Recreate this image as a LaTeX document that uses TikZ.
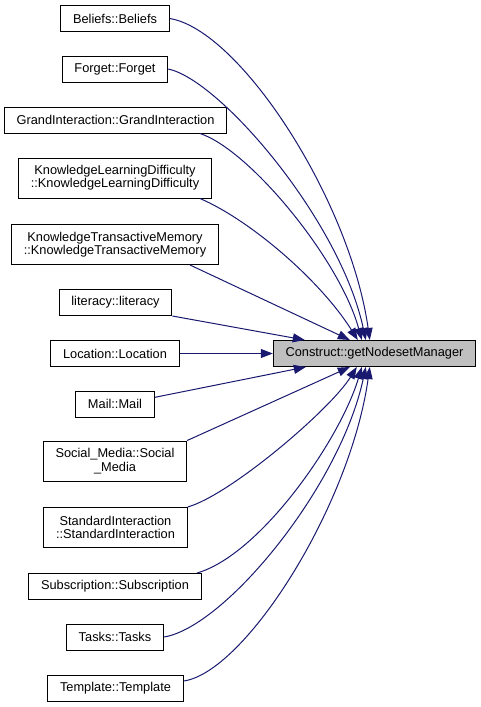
\documentclass[tikz,border=0pt]{standalone}
\usepackage{fontspec}
\setmainfont{Liberation Sans}
\usetikzlibrary{arrows.meta}
\definecolor{edgeblue}{HTML}{191970}
\definecolor{boxgray}{HTML}{BFBFBF}

\begin{document}
\begin{tikzpicture}[x=0.75pt,y=-0.75pt,
  caller/.style={draw=black, line width=0.75pt, fill=white, font=\fontsize{9.6pt}{10pt}\selectfont,
    align=center, inner xsep=9.2pt, inner ysep=2pt, minimum height=19.5pt},
  twoline/.style={minimum height=30pt},
  callee/.style={caller, fill=boxgray},
  call/.style={draw=edgeblue, line width=0.75pt, -{Triangle[length=9pt,width=6.75pt]}}]
\useasboundingbox (0,0) rectangle (481,707);

% callers
\node[caller] (beliefs) at (115,18.5) {Beliefs::Beliefs};
\node[caller] (forget) at (115,69) {Forget::Forget};
\node[caller] (grand) at (115.5,120) {GrandInteraction::GrandInteraction};
\node[caller,twoline] (kld) at (115,178) {KnowledgeLearningDifficulty\\::KnowledgeLearningDifficulty};
\node[caller,twoline] (ktm) at (115,244.5) {KnowledgeTransactiveMemory\\::KnowledgeTransactiveMemory};
\node[caller] (literacy) at (115.5,302.5) {literacy::literacy};
\node[caller] (location) at (115,353.5) {Location::Location};
\node[caller] (mail) at (115,404) {Mail::Mail};
\node[caller,twoline] (social) at (115,461) {Social\_Media::Social\\\_Media};
\node[caller,twoline] (standard) at (115.5,527.5) {StandardInteraction\\::StandardInteraction};
\node[caller] (subscription) at (115,586.5) {Subscription::Subscription};
\node[caller] (tasks) at (115,637) {Tasks::Tasks};
\node[caller] (template) at (115.5,688) {Template::Template};

% callee
\node[callee] (mgr) at (374.5,353.5) {Construct::getNodesetManager};

% calls, upper half
\draw[call] (beliefs.east) .. controls (240,30) and (350,200) .. ([xshift=72.75pt]mgr.north west);
\draw[call] (forget.east) .. controls (220,80) and (340,220) .. ([xshift=69.75pt]mgr.north west);
\draw[call] ([xshift=63.4pt]grand.south) .. controls (250,150) and (340,260) .. ([xshift=66.75pt]mgr.north west);
\draw[call] ([xshift=63.75pt]kld.south) .. controls (250,220) and (320,280) .. ([xshift=63.75pt]mgr.north west);
\draw[call] ([xshift=56.25pt]ktm.south) -- ([xshift=57.75pt]mgr.north west);
\draw[call] (literacy.south east) -- ([xshift=24pt]mgr.north west);
\draw[call] (location) -- (mgr);
% calls, lower half
\draw[call] ([yshift=5pt]mail.east) -- ([xshift=24.75pt]mgr.south west);
\draw[call] (social.north east) -- ([xshift=57.75pt]mgr.south west);
\draw[call] (standard.north east) .. controls (230,495) and (330,410) .. ([xshift=63pt]mgr.south west);
\draw[call] ([xshift=61.5pt]subscription.north) .. controls (260,555) and (340,440) .. ([xshift=66.75pt]mgr.south west);
\draw[call] (tasks.east) .. controls (225,627) and (340,487) .. ([xshift=69.75pt]mgr.south west);
\draw[call] ([yshift=5.25pt]template.east) .. controls (245,672) and (350,507) .. ([xshift=72.75pt]mgr.south west);
\end{tikzpicture}
\end{document}
